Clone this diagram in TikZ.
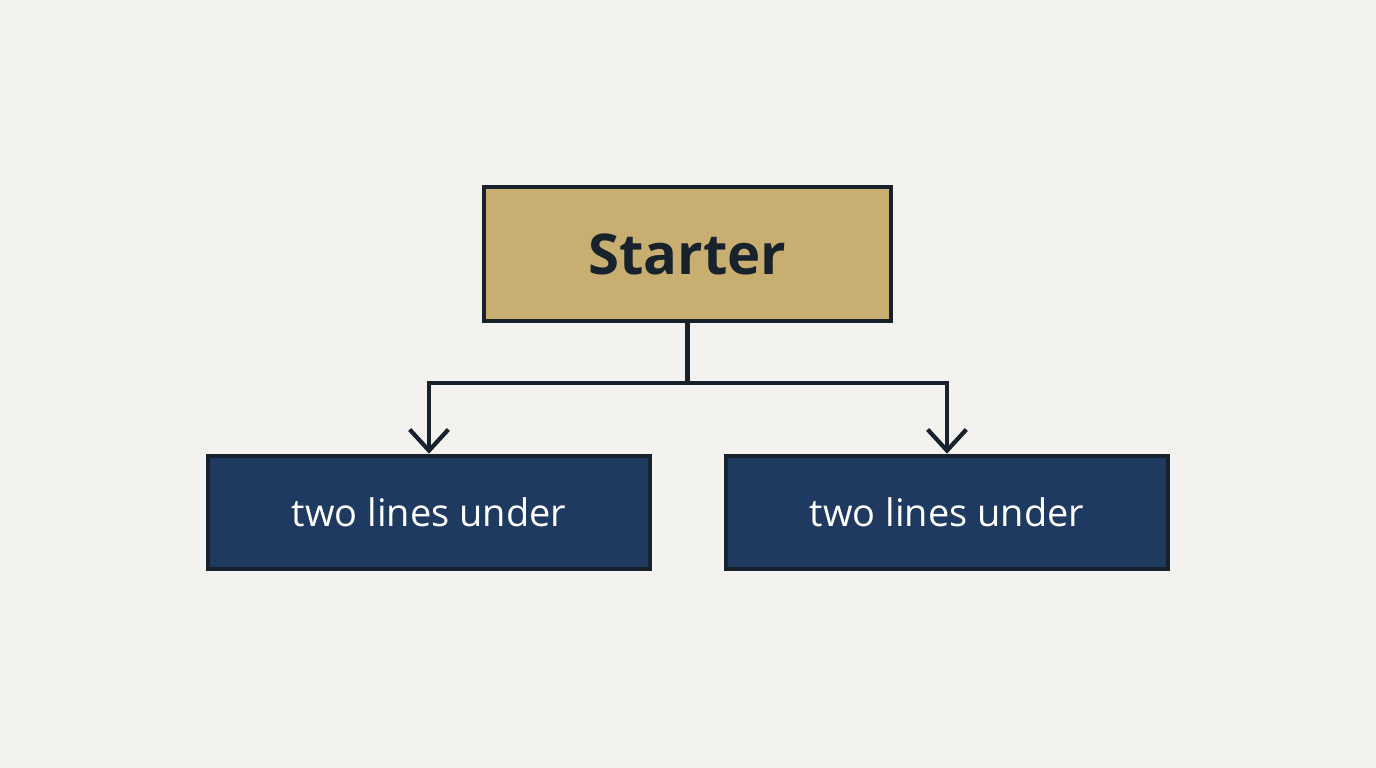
\documentclass[tikz,border=0pt]{standalone}
\usepackage{fontspec}
\setmainfont{Open Sans}
\definecolor{bgpaper}{RGB}{243, 242, 238}
\definecolor{startertan}{RGB}{201, 174, 114}
\definecolor{undernavy}{RGB}{31, 58, 96}
\definecolor{inkdark}{RGB}{24, 34, 44}
\usetikzlibrary{arrows.meta, positioning}

\begin{document}
\begin{tikzpicture}[
    topbox/.style={draw=inkdark, fill=startertan, line width=1.3pt, minimum width=4.07cm, minimum height=1.34cm, font=\fontsize{16}{19}\selectfont\bfseries, text=inkdark},
    subbox/.style={draw=inkdark, fill=undernavy, line width=1.3pt, minimum width=4.42cm, minimum height=1.13cm, font=\fontsize{10.8}{13}\selectfont, text=white},
    link/.style={draw=inkdark, line width=1.2pt},
    linkarrow/.style={link, -{Straight Barb[length=6pt, width=11pt, line width=1.2pt]}}
  ]
  % background
  \fill[bgpaper] (0,0) rectangle (13.76,7.68);
  \useasboundingbox (0,0) rectangle (13.76,7.68);

  % nodes
  \node[topbox] (starter) at (6.875, 5.14) {Starter};
  \node[subbox] (left) at (4.29, 2.555) {two lines under};
  \node[subbox] (right) at (9.47, 2.555) {two lines under};

  % connectors
  \coordinate (split) at (6.875, 3.85);
  \draw[link] (starter.south) -- (split);
  \draw[linkarrow] (split) -| (left.north);
  \draw[linkarrow] (split) -| (right.north);
\end{tikzpicture}
\end{document}
